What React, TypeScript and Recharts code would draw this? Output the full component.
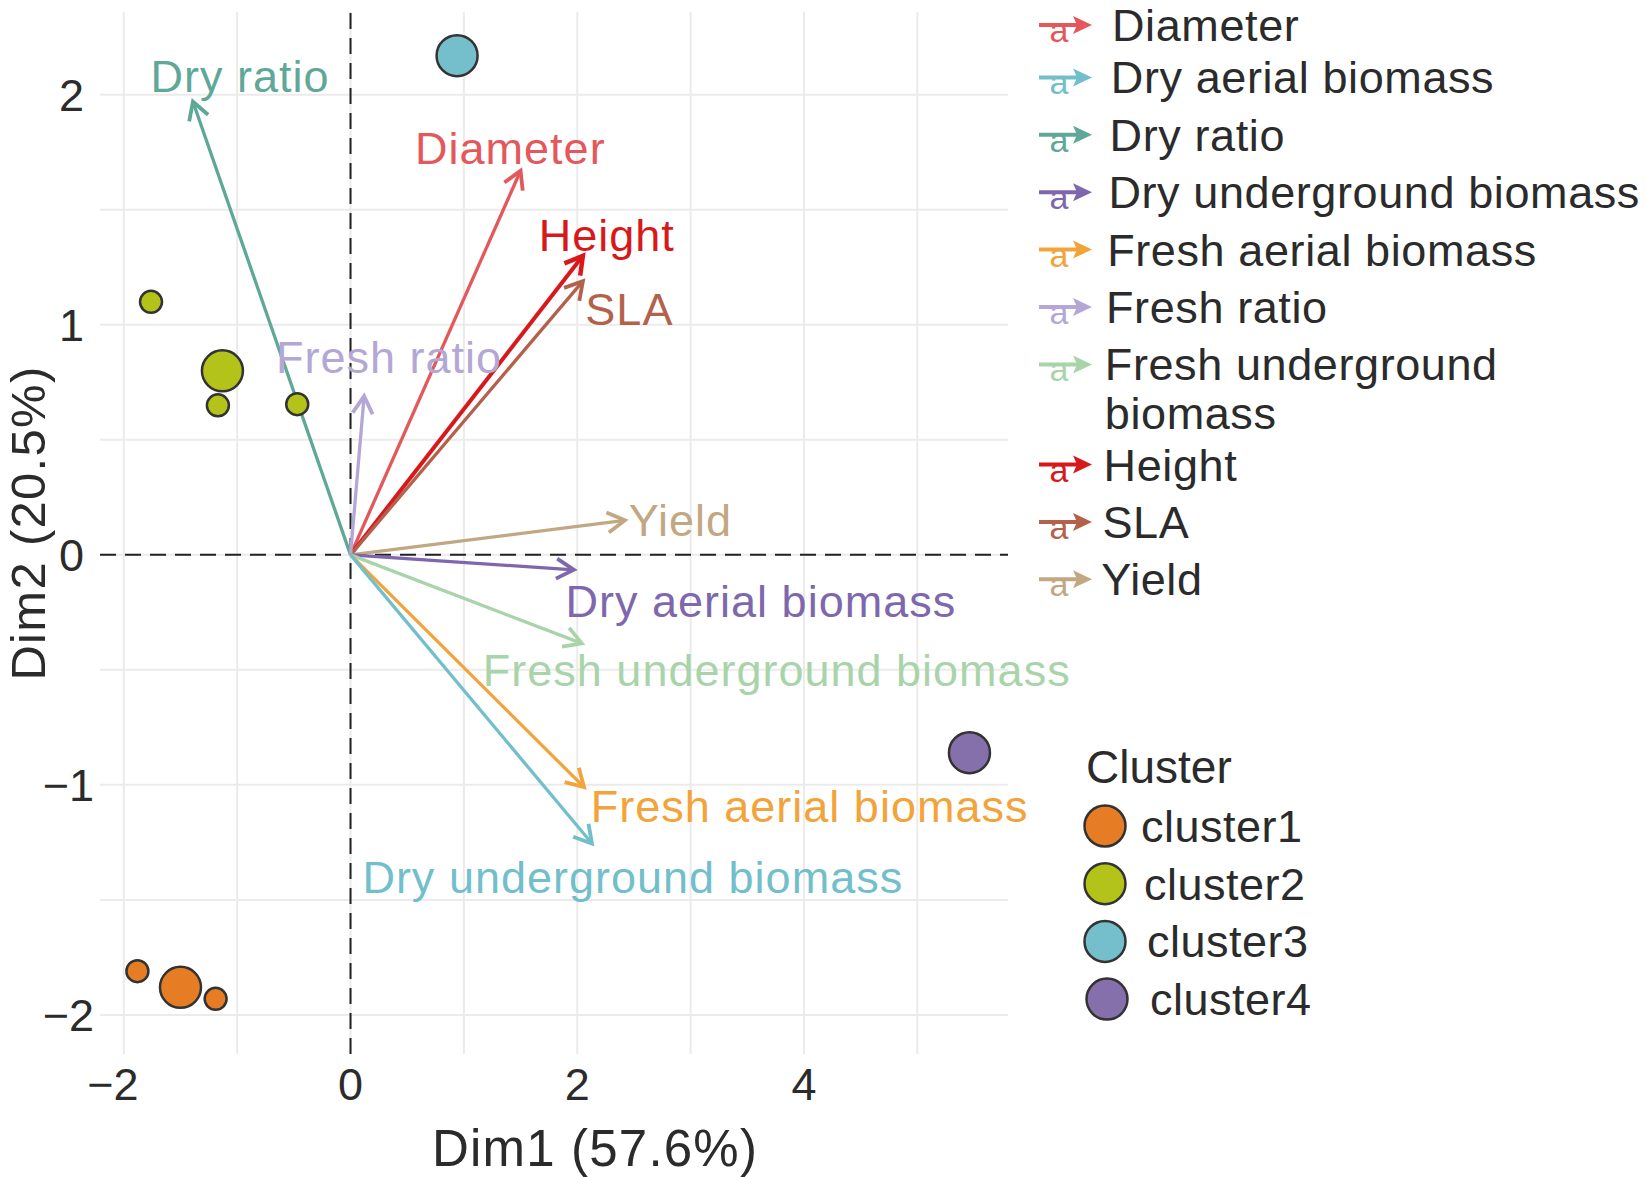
import React from 'react'
import { ScatterChart, Scatter, XAxis, YAxis, CartesianGrid, ReferenceLine, Legend } from 'recharts'

const FONT = '"Liberation Sans", Arial, Helvetica, sans-serif'
const INK = '#2b2b2b'

// variable arrows: tip = loading, label = where the text sits
const varNames = ['Dry ratio', 'Diameter', 'Height', 'SLA', 'Fresh ratio', 'Yield', 'Dry aerial biomass', 'Fresh underground biomass', 'Fresh aerial biomass', 'Dry underground biomass']
const varX = [-1.39, 1.5, 2.05, 2.05, 0.12, 2.42, 1.97, 2.04, 2.06, 2.13]
const varY = [1.97, 1.67, 1.3, 1.19, 0.69, 0.15, -0.065, -0.385, -1.01, -1.255]
const labelX = [-0.975, 1.41, 2.26, 2.46, 0.34, 2.91, 3.62, 3.76, 4.05, 2.49]
const labelY = [2.08, 1.77, 1.39, 1.07, 0.86, 0.15, -0.2, -0.5, -1.09, -1.4]
const varColors = ['#5FA898', '#E4575B', '#D7191C', '#B4614C', '#B4A7D6', '#C2A783', '#7E67AD', '#A9D4AA', '#F2A43A', '#72BFCB']

// arrow legend (as printed)
const legendNames = ['Diameter', 'Dry aerial biomass', 'Dry ratio', 'Dry underground biomass', 'Fresh aerial biomass', 'Fresh ratio', 'Fresh underground|biomass', 'Height', 'SLA', 'Yield']
const legendColors = ['#E4575B', '#72BFCB', '#5FA898', '#7E67AD', '#F2A43A', '#B4A7D6', '#A9D4AA', '#D7191C', '#B4614C', '#C2A783']

// individuals and cluster centres
const clusterNames = ['cluster1', 'cluster2', 'cluster3', 'cluster4']
const clusterColors = ['#E67D25', '#B4C31A', '#74BFCB', '#8570AB']
const indX = [-1.88, -1.19, -1.76, -1.17, -0.47]
const indY = [-1.81, -1.93, 1.1, 0.65, 0.655]
const indCluster = [0, 0, 1, 1, 1]
const centerX = [-1.5, -1.13, 0.94, 5.46]
const centerY = [-1.88, 0.8, 2.17, -0.86]

const xTicks = [-2, -1, 0, 1, 2, 3, 4, 5]
const yTicks = [-2, -1.5, -1, -0.5, 0, 0.5, 1, 1.5, 2]

const fmt = (v: number) => (v < 0 ? '\u2212' + Math.abs(v) : String(v))

const individuals = indX.map((x, i) => ({ x, y: indY[i], c: indCluster[i] }))
const centres = centerX.map((x, i) => ({ x, y: centerY[i], c: i }))
const labels = varNames.map((name, i) => ({ x: labelX[i], y: labelY[i], name, color: varColors[i] }))

const arrowShape = (color: string, sw: number) => (p: any) => {
  const { x1, y1, x2, y2 } = p
  if ([x1, y1, x2, y2].some((v) => typeof v !== 'number' || isNaN(v))) return <g />
  const a = Math.atan2(y2 - y1, x2 - x1)
  const L = 20
  const w = Math.PI / 6
  const h1 = `${x2 - L * Math.cos(a - w)},${y2 - L * Math.sin(a - w)}`
  const h2 = `${x2 - L * Math.cos(a + w)},${y2 - L * Math.sin(a + w)}`
  return (
    <g>
      <line x1={x1} y1={y1} x2={x2} y2={y2} stroke={color} strokeWidth={sw} />
      <polyline points={`${h1} ${x2},${y2} ${h2}`} fill="none" stroke={color} strokeWidth={sw + 0.5} />
    </g>
  )
}

const XTick = (props: any) => {
  const { x, payload } = props
  if (payload.value % 2 !== 0) return <g />
  return (
    <text x={x - (payload.value < 0 ? 11 : 0)} y={1100} textAnchor="middle" fill={INK} fontSize={45} fontFamily={FONT}>
      {fmt(payload.value)}
    </text>
  )
}

const YTick = (props: any) => {
  const { y, payload } = props
  if (!Number.isInteger(payload.value)) return <g />
  return (
    <text x={payload.value < 0 ? 94 : 84} y={y + 16} textAnchor="end" fill={INK} fontSize={45} fontFamily={FONT}>
      {fmt(payload.value)}
    </text>
  )
}

const renderLegend = () => (
  <svg width={616} height={1177} viewBox="1030 0 616 1177" style={{ display: 'block' }}>
    {legendNames.map((n, i) => {
      // first row nudged down so its text stays inside the picture
      const cy = i === 0 ? 25 : 20 + 57.4 * i + (i >= 7 ? 42.7 : 0)
      const col = legendColors[i]
      const tx = 1112 - 1.2 * i
      const lines = n.split('|')
      return (
        <g key={n}>
          <line x1={1039} y1={cy} x2={1078} y2={cy} stroke={col} strokeWidth={4} />
          <polygon points={`${1073},${cy - 9} ${1092},${cy} ${1073},${cy + 9} ${1077},${cy}`} fill={col} />
          <text x={1059} y={cy + 17} textAnchor="middle" fill={col} fontSize={34} fontFamily={FONT}>a</text>
          {lines.map((t, j) => (
            <text key={t} x={tx} y={cy + 16 + j * 49} fill={INK} fontSize={45} letterSpacing={0.6} fontFamily={FONT}>{t}</text>
          ))}
        </g>
      )
    })}
    <text x={1086} y={783} fill={INK} fontSize={46} fontFamily={FONT}>Cluster</text>
    {clusterNames.map((n, i) => {
      const cy = 826 + 57.7 * i
      return (
        <g key={n}>
          <circle cx={1105 + (i === 3 ? 2 : 0)} cy={cy} r={20.5} fill={clusterColors[i]} stroke="#333" strokeWidth={2.5} />
          <text x={1141 + 3 * i} y={cy + 16} fill={INK} fontSize={45} letterSpacing={0.5} fontFamily={FONT}>{n}</text>
        </g>
      )
    })}
  </svg>
)

export default function App() {
  return (
    <div style={{ position: 'absolute', left: 0, top: 0, width: 1646, height: 1177, background: '#fff' }}>
      <ScatterChart width={1646} height={1177} margin={{ top: 12, right: 638, bottom: 0, left: 0 }}>
        <CartesianGrid stroke="#EBEBEB" strokeWidth={2} syncWithTicks />
        <XAxis
          type="number"
          dataKey="x"
          domain={[-2.21, 5.8]}
          ticks={xTicks}
          height={123}
          axisLine={false}
          tickLine={false}
          tick={<XTick />}
          label={{
            content: () => (
              <text x={595} y={1166} textAnchor="middle" fill={INK} fontSize={51} letterSpacing={1.2} fontFamily={FONT}>
                Dim1 (57.6%)
              </text>
            ),
          }}
        />
        <YAxis
          type="number"
          dataKey="y"
          domain={[-2.17, 2.36]}
          ticks={yTicks}
          width={100}
          axisLine={false}
          tickLine={false}
          tick={<YTick />}
          label={{
            content: () => (
              <text x={45} y={523} transform="rotate(-90 45 523)" textAnchor="middle" fill={INK} fontSize={49} letterSpacing={1.3} fontFamily={FONT}>
                Dim2 (20.5%)
              </text>
            ),
          }}
        />
        <ReferenceLine x={0} stroke="#222" strokeWidth={2} strokeDasharray="16 9" />
        <ReferenceLine y={0} stroke="#222" strokeWidth={2} strokeDasharray="16 9" />
        <Scatter
          data={individuals}
          isAnimationActive={false}
          shape={(p: any) => <circle cx={p.cx} cy={p.cy} r={11} fill={clusterColors[p.payload.c]} stroke="#333" strokeWidth={2.5} />}
        />
        <Scatter
          data={centres}
          isAnimationActive={false}
          shape={(p: any) => <circle cx={p.cx} cy={p.cy} r={20.5} fill={clusterColors[p.payload.c]} stroke="#333" strokeWidth={2.5} />}
        />
        {varNames.map((n, i) => (
          <ReferenceLine
            key={n}
            segment={[{ x: 0, y: 0 }, { x: varX[i], y: varY[i] }]}
            ifOverflow="visible"
            shape={arrowShape(varColors[i], n === 'Height' ? 4 : 3.3)}
          />
        ))}
        <Scatter
          data={labels}
          isAnimationActive={false}
          shape={(p: any) => (
            <text x={p.cx} y={p.cy + 16} textAnchor="middle" fill={p.payload.color} fontSize={45} letterSpacing={1} fontFamily={FONT}>
              {p.payload.name}
            </text>
          )}
        />
        <Legend
          layout="horizontal"
          verticalAlign="middle"
          align="center"
          wrapperStyle={{ position: 'absolute', left: 1030, top: 0, width: 616, height: 1177 }}
          content={renderLegend}
        />
      </ScatterChart>
    </div>
  )
}
